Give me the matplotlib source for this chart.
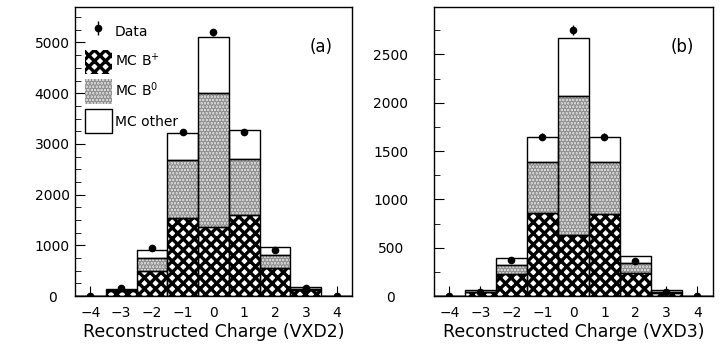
import numpy as np
import matplotlib
matplotlib.use("Agg")
import matplotlib.pyplot as plt
from matplotlib.patches import Patch

# Восстановленный заряд и содержимое бинов
charge = np.arange(-4, 5)

# VXD2
data_a = [0, 150, 940, 3230, 5200, 3240, 910, 160, 0]
bplus_a = [0, 95, 500, 1540, 1360, 1590, 550, 120, 0]
bzero_a = [0, 20, 250, 1140, 2650, 1120, 260, 25, 0]
other_a = [0, 25, 160, 530, 1100, 560, 150, 40, 0]

# VXD3
data_b = [0, 40, 370, 1650, 2750, 1650, 365, 40, 0]
bplus_b = [0, 38, 230, 860, 635, 845, 240, 30, 0]
bzero_b = [0, 7, 95, 525, 1433, 542, 100, 15, 0]
other_b = [0, 15, 70, 257, 605, 255, 70, 15, 0]

plt.rcParams['font.family'] = ['DejaVu Sans']
plt.rcParams['hatch.linewidth'] = 2.4

fig = plt.figure(figsize=(7.25, 3.44), dpi=100)
ax_a = fig.add_axes([0.1034, 0.1395, 0.3821, 0.8402])
ax_b = fig.add_axes([0.5986, 0.1395, 0.3848, 0.8402])

B0_FACE = '#dedede'
B0_DOTS = '#909090'


def draw(ax, data, bplus, bzero, other, ymax, ytop, major, minor, ypad,
         label, xlabel):
    bplus = np.array(bplus)
    bzero = np.array(bzero)
    other = np.array(other)
    data = np.array(data, dtype=float)

    # MC B+ : плотная сетка
    ax.bar(charge, bplus, width=1.0, facecolor='white', edgecolor='black',
           hatch='xxx', linewidth=0)
    # MC B0 : серая точечная заливка
    ax.bar(charge, bzero, width=1.0, bottom=bplus, facecolor=B0_FACE,
           edgecolor=B0_DOTS, hatch='.....', linewidth=0)
    # MC other : белый
    ax.bar(charge, other, width=1.0, bottom=bplus + bzero, facecolor='white',
           linewidth=0)

    # контуры слоёв
    ax.bar(charge, bplus, width=1.0, fill=False, edgecolor='black', linewidth=1.0)
    ax.bar(charge, bzero, width=1.0, bottom=bplus, fill=False,
           edgecolor='black', linewidth=1.0)
    ax.bar(charge, other, width=1.0, bottom=bplus + bzero, fill=False,
           edgecolor='black', linewidth=1.0)

    # данные со статистическими ошибками
    eb = ax.errorbar(charge, data, yerr=np.sqrt(data), fmt='o', color='black',
                     markersize=4.5, elinewidth=1.0, capsize=0, zorder=5)

    ax.set_xlim(-4.5, 4.5)
    ax.set_ylim(0, ymax)
    ax.set_xticks(charge)
    ax.set_yticks(np.arange(0, ytop + 1, major))
    ax.set_yticks(np.arange(0, ymax, minor), minor=True)
    # засечки под гистограммой
    ax.set_axisbelow(True)
    ax.tick_params(axis='both', which='both', direction='in', labelsize=10,
                   right=False, top=False)
    ax.tick_params(axis='y', which='major', length=7, pad=ypad)
    ax.tick_params(axis='y', which='minor', length=4)
    ax.tick_params(axis='x', which='major', length=7, pad=7)
    for t in ax.get_yticklabels():
        t.set_horizontalalignment('center')
    for s in ax.spines.values():
        s.set_linewidth(1.0)

    ax.set_xlabel(xlabel, fontsize=12.5, labelpad=2)
    ax.text(0.89, 0.86, label, transform=ax.transAxes, fontsize=12,
            ha='center', va='center')
    return eb


eb = draw(ax_a, data_a, bplus_a, bzero_a, other_a, 5700, 5000, 1000, 250,
          16.5, '(a)', 'Reconstructed Charge (VXD2)')
draw(ax_b, data_b, bplus_b, bzero_b, other_b, 2990, 2500, 500, 250,
     31, '(b)', 'Reconstructed Charge (VXD3)')

handles = [
    eb,
    Patch(facecolor='white', edgecolor='black', hatch='xxx', linewidth=0),
    Patch(facecolor=B0_FACE, edgecolor=B0_DOTS, hatch='.....', linewidth=0),
    Patch(facecolor='white', edgecolor='black', linewidth=1.0),
]
labels = ['Data', 'MC B$^{+}$', 'MC B$^{0}$', 'MC other']
ax_a.legend(handles, labels, loc='upper left', bbox_to_anchor=(0.036, 0.955),
            frameon=False, fontsize=10, handlelength=1.95, handleheight=2.3,
            labelspacing=0.4, handletextpad=0.2, borderpad=0,
            borderaxespad=0)

fig.savefig('out.png', dpi=100)
